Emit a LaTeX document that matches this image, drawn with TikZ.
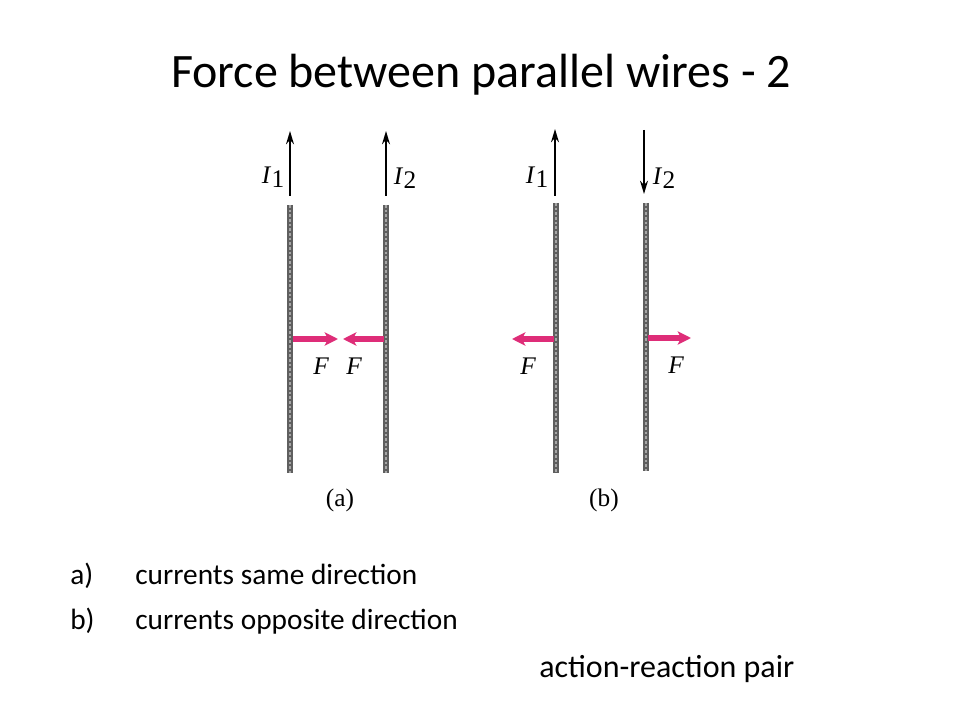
\documentclass[tikz,border=0pt]{standalone}
\usepackage{fontspec}
\setmainfont{Carlito}
\newfontfamily\serifit{Liberation Serif}
\usetikzlibrary{arrows.meta}
\definecolor{forcepink}{RGB}{222,45,120}
\definecolor{wiregray}{RGB}{95,95,95}
\tikzset{
  wire/.style={draw=wiregray, line width=4.4pt},
  wirecore/.style={draw=gray!70, line width=1.4pt, dash pattern=on 2pt off 1.5pt},
  current/.style={draw=black, line width=1.1pt, -{Stealth[length=10pt,width=6pt]}},
  force/.style={draw=forcepink, line width=4.4pt, -{Stealth[length=10pt,width=10pt,inset=2.5pt]}},
  lbl/.style={font=\serifit\fontsize{19}{20}\selectfont\itshape, inner sep=0pt},
  sub/.style={font=\serifit\fontsize{19}{21}\selectfont, inner sep=0pt},
  bodytext/.style={font=\fontsize{22}{26}\selectfont, inner sep=0pt, anchor=base west},
}
\begin{document}
\begin{tikzpicture}[x=0.75pt,y=-0.75pt]
\useasboundingbox (0,0) rectangle (960,720);
% title
\node[font=\fontsize{36}{42}\selectfont, inner sep=0pt, anchor=base] (title) at (481,88) {Force between parallel wires - 2};

% ---- (a) ----
\coordinate (a1top) at (290,205); \coordinate (a1bot) at (290,473);
\coordinate (a2top) at (386,205); \coordinate (a2bot) at (386,473);
\draw[wire] (a1top) -- (a1bot);
\draw[wirecore] (a1top) -- (a1bot);
\draw[wire] (a2top) -- (a2bot);
\draw[wirecore] (a2top) -- (a2bot);
\coordinate (a1s) at (290,196); \coordinate (a1e) at (290,131);
\coordinate (a2s) at (386,196); \coordinate (a2e) at (386,131);
\draw[current] (a1s) -- (a1e);
\draw[current] (a2s) -- (a2e);
\node[lbl] (aI1) at (273,177) {I\kern1pt\raisebox{-3pt}{\upshape 1}};
\node[lbl] (aI2) at (405,178) {I\kern1pt\raisebox{-3pt}{\upshape 2}};
\coordinate (aF1s) at (293,339); \coordinate (aF1e) at (338,339);
\coordinate (aF2s) at (384,339); \coordinate (aF2e) at (343,339);
\draw[force] (aF1s) -- (aF1e);
\draw[force] (aF2s) -- (aF2e);
\node[lbl] (aF1) at (321,366) {F};
\node[lbl] (aF2) at (354,366) {F};
\node[sub] (alab) at (340,500) {(a)};

% ---- (b) ----
\coordinate (b1top) at (556,203); \coordinate (b1bot) at (556,473);
\coordinate (b2top) at (646,203); \coordinate (b2bot) at (646,471);
\draw[wire] (b1top) -- (b1bot);
\draw[wirecore] (b1top) -- (b1bot);
\draw[wire] (b2top) -- (b2bot);
\draw[wirecore] (b2top) -- (b2bot);
\coordinate (b1s) at (555,196); \coordinate (b1e) at (555,129);
\coordinate (b2s) at (644,130); \coordinate (b2e) at (644,194);
\draw[current] (b1s) -- (b1e);
\draw[current] (b2s) -- (b2e);
\node[lbl] (bI1) at (537,177) {I\kern1pt\raisebox{-3pt}{\upshape 1}};
\node[lbl] (bI2) at (664,178) {I\kern1pt\raisebox{-3pt}{\upshape 2}};
\coordinate (bF1s) at (554,339); \coordinate (bF1e) at (512,339);
\coordinate (bF2s) at (648,338); \coordinate (bF2e) at (691,338);
\draw[force] (bF1s) -- (bF1e);
\draw[force] (bF2s) -- (bF2e);
\node[lbl] (bF1) at (528,366) {F};
\node[lbl] (bF2) at (676,365) {F};
\node[sub] (blab) at (604,500) {(b)};

% ---- text ----
\node[bodytext] (ia) at (70,584) {a)};
\node[bodytext] (ta) at (135,584) {currents same direction};
\node[bodytext] (ib) at (70,629) {b)};
\node[bodytext] (tb) at (135,629) {currents opposite direction};
\node[bodytext, font=\fontsize{24}{28}\selectfont] (ar) at (539,677) {action-reaction pair};
\end{tikzpicture}
\end{document}
